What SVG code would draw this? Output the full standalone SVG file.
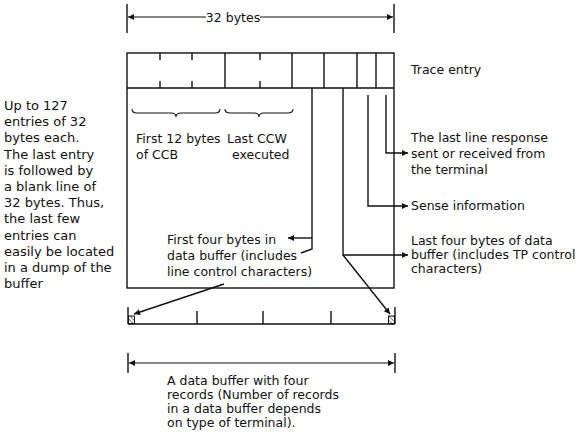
<svg xmlns="http://www.w3.org/2000/svg" width="586" height="439" viewBox="0 0 586 439">
<defs>
<style>
text{font-family:"DejaVu Sans","Liberation Sans",sans-serif;font-size:12.5px;fill:#111}
.big{font-size:13px}
.ln{stroke:#111;stroke-width:1.4;fill:none}
.thin{stroke:#111;stroke-width:1.1;fill:none}
</style>
<marker id="ah" viewBox="0 0 10 10" refX="10" refY="5" markerWidth="8" markerHeight="6" markerUnits="userSpaceOnUse" orient="auto">
<path d="M0,0 L10,5 L0,10 z" fill="#111"/>
</marker>
<pattern id="hatch" width="3" height="3" patternUnits="userSpaceOnUse" patternTransform="rotate(-45)">
<line x1="0" y1="0" x2="0" y2="3" stroke="#111" stroke-width="1"/>
</pattern>
</defs>
<rect width="586" height="439" fill="#fff"/>

<g id="dim-top">
<line class="ln" x1="127" y1="4" x2="127" y2="33"/>
<line class="ln" x1="394" y1="4" x2="394" y2="33"/>
<line class="thin" x1="206" y1="17" x2="128" y2="17" marker-end="url(#ah)"/>
<line class="thin" x1="260" y1="17" x2="393" y2="17" marker-end="url(#ah)"/>
<text x="233" y="22" text-anchor="middle">32 bytes</text>
</g>

<g id="trace-entry">
<rect class="ln" x="127" y="53" width="267" height="235"/>
<line class="ln" x1="127" y1="88" x2="394" y2="88"/>
<line class="ln" x1="225" y1="53" x2="225" y2="88"/>
<line class="ln" x1="292" y1="53" x2="292" y2="88"/>
<line class="ln" x1="324" y1="53" x2="324" y2="88"/>
<line class="ln" x1="357" y1="53" x2="357" y2="88"/>
<line class="ln" x1="376" y1="53" x2="376" y2="88"/>
<path class="ln" d="M160,53 v7 M160,81 v7 M192,53 v7 M192,81 v7 M260,53 v7 M260,81 v7"/>
<text x="411" y="74">Trace entry</text>
</g>

<g id="field-ccb">
<path class="thin" d="M132,109 Q132,113 137,113 L171,113 Q176,113 176,117 Q176,113 181,113 L215,113 Q220,113 220,109"/>
<text x="136" y="143">First 12 bytes</text>
<text x="136" y="159">of CCB</text>
</g>

<g id="field-ccw">
<path class="thin" d="M225,109 Q225,113 230,113 L254,113 Q259,113 259,117 Q259,113 264,113 L288,113 Q293,113 293,109"/>
<text x="227" y="143">Last CCW</text>
<text x="232" y="159">executed</text>
</g>

<g id="label-left" class="big">
<text class="big" x="4" y="110">Up to 127</text>
<text class="big" x="4" y="126.2">entries of 32</text>
<text class="big" x="4" y="142.4">bytes each.</text>
<text class="big" x="4" y="158.6">The last entry</text>
<text class="big" x="4" y="174.8">is followed by</text>
<text class="big" x="4" y="191">a blank line of</text>
<text class="big" x="4" y="207.2">32 bytes. Thus,</text>
<text class="big" x="4" y="223.4">the last few</text>
<text class="big" x="4" y="239.6">entries can</text>
<text class="big" x="4" y="255.8">easily be located</text>
<text class="big" x="4" y="272">in a dump of the</text>
<text class="big" x="4" y="288.2">buffer</text>
</g>

<g id="label-response">
<text x="411" y="142">The last line response</text>
<text x="411" y="158">sent or received from</text>
<text x="411" y="174">the terminal</text>
</g>

<g id="label-sense">
<text x="411" y="210">Sense information</text>
</g>

<g id="label-first4">
<text x="167" y="244">First four bytes in</text>
<text x="167" y="260">data buffer (includes</text>
<text x="167" y="276">line control characters)</text>
</g>

<g id="label-last4">
<text x="411" y="245">Last four bytes of data</text>
<text x="411" y="259">buffer (includes TP control</text>
<text x="411" y="273">characters)</text>
</g>

<g id="data-buffer">
<line class="ln" x1="128" y1="324" x2="395" y2="324"/>
<line class="ln" x1="128" y1="307" x2="128" y2="324"/>
<line class="ln" x1="395" y1="307" x2="395" y2="324"/>
<line class="ln" x1="197" y1="311" x2="197" y2="324"/>
<line class="ln" x1="263" y1="311" x2="263" y2="324"/>
<line class="ln" x1="331" y1="311" x2="331" y2="324"/>
<rect x="128.5" y="316" width="6" height="7.5" fill="url(#hatch)" stroke="#111" stroke-width="1"/>
<rect x="388.5" y="316" width="6" height="7.5" fill="url(#hatch)" stroke="#111" stroke-width="1"/>
</g>

<g id="dim-bottom">
<line class="ln" x1="128" y1="353" x2="128" y2="373"/>
<line class="ln" x1="395" y1="353" x2="395" y2="373"/>
<line class="thin" x1="261" y1="363" x2="129" y2="363" marker-end="url(#ah)"/>
<line class="thin" x1="261" y1="363" x2="394" y2="363" marker-end="url(#ah)"/>
<text x="167" y="385">A data buffer with four</text>
<text x="167" y="399">records (Number of records</text>
<text x="167" y="413">in a data buffer depends</text>
<text x="167" y="427">on type of terminal).</text>
</g>

<g id="connectors">
<polyline class="ln" points="386,95 386,153 408,153" marker-end="url(#ah)"/>
<polyline class="ln" points="368,95 368,206 408,206" marker-end="url(#ah)"/>
<polyline class="ln" points="312,88 312,249 301,253"/>
<line class="ln" x1="312" y1="238" x2="288" y2="238" marker-end="url(#ah)"/>
<polyline class="ln" points="343,88 343,255 408,255" marker-end="url(#ah)"/>
<line class="ln" x1="343" y1="255" x2="390" y2="314" marker-end="url(#ah)"/>
<line class="ln" x1="224" y1="284" x2="134" y2="314" marker-end="url(#ah)"/>
</g>
</svg>
